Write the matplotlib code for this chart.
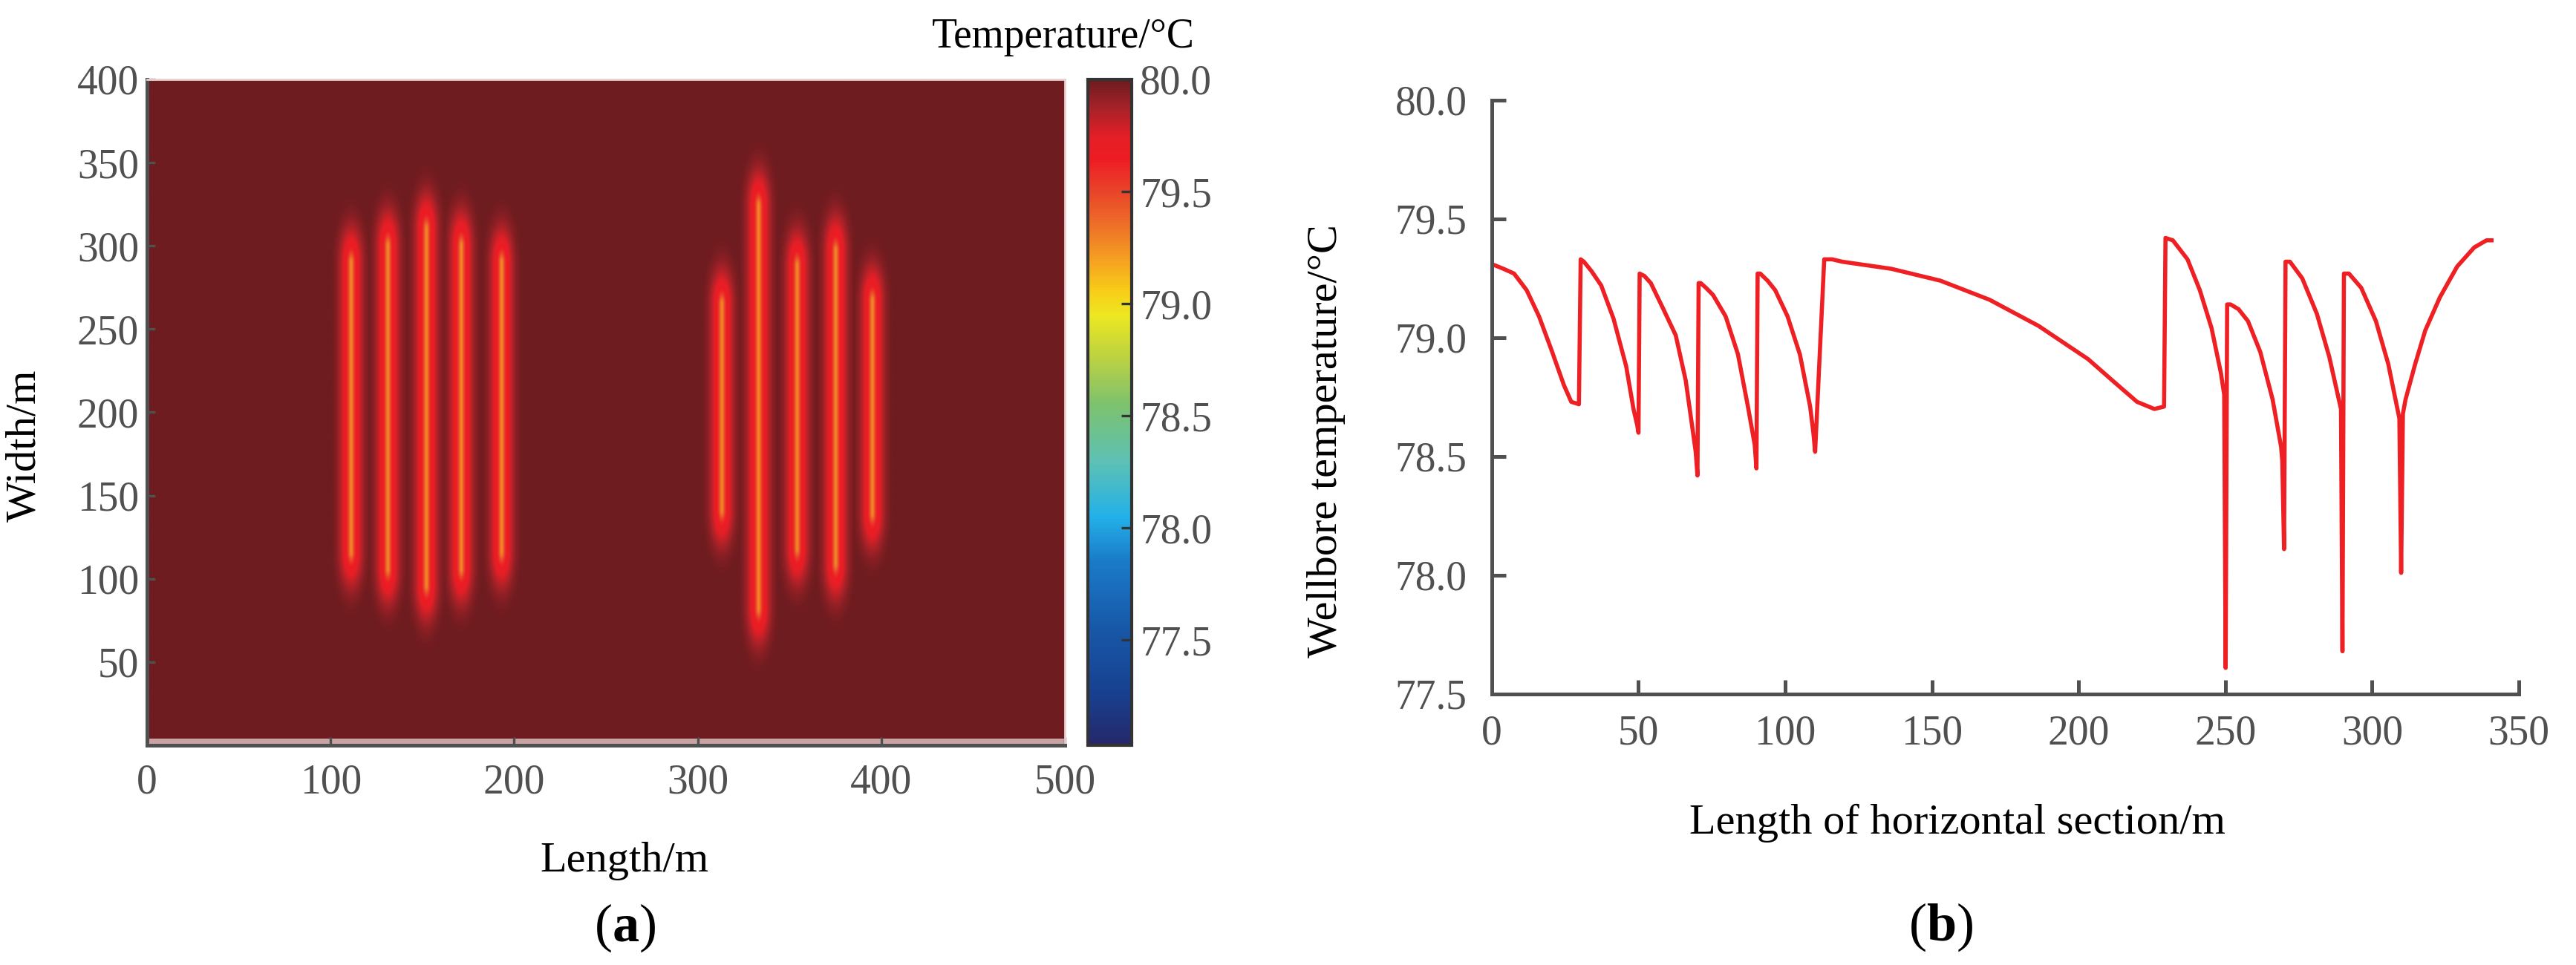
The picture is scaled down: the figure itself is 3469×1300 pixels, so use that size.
"""
Fracture temperature field (a) and wellbore temperature profile (b)
"""

import numpy as np
import matplotlib.pyplot as plt
from matplotlib.colors import LinearSegmentedColormap, Normalize

# ------------------------------
# fonts
# ------------------------------
plt.rcParams['font.family'] = ['Liberation Serif', 'DejaVu Serif']
plt.rcParams['mathtext.fontset'] = 'custom'
plt.rcParams['mathtext.rm'] = 'Liberation Serif'
plt.rcParams['mathtext.bf'] = 'Liberation Serif:bold'

# ------------------------------
# (a) fracture data
# ------------------------------
frac_x = [111, 131, 152, 171, 193, 313, 333, 354, 375, 395]
frac_half_len = [87, 97, 107, 97, 87, 62, 121, 85, 94, 64]
frac_center_y = 203
frac_core_drop = 0.72          # temperature drop on the fracture line, °C
t_reservoir = 80.0

# colour bar (value, colour)
cbar_vals = [77.03, 77.25, 77.55, 77.85, 78.05, 78.30, 78.55, 78.75,
             78.95, 79.05, 79.20, 79.35, 79.50, 79.65, 79.75, 79.88, 80.00]
cbar_cols = ['#26286a', '#183f8f', '#1858a8', '#1a7bc9', '#23b1e8', '#5ec1b3',
             '#7dc26e', '#b9d143', '#eee722', '#f7cf18', '#f5a021', '#ee7028',
             '#e9452a', '#ee1c24', '#e41f26', '#a52228', '#6e1c20']
cbar_ticks = [77.5, 78.0, 78.5, 79.0, 79.5, 80.0]

# ------------------------------
# (b) wellbore temperature data
# ------------------------------
bore_len = [0, 4, 7.6, 11.9, 16.1, 20.3, 24.6, 27.1, 29.7, 30.3,
            31.4, 34, 37.3, 41.5, 45.8, 48.3, 49.6, 50.0, 50.4,
            52, 54.2, 58.5, 62.7, 66.1, 68.6, 69.5, 70.1, 70.5,
            71.2, 73, 75.4, 79.7, 83.9, 87.3, 89.6, 90.2, 90.6,
            91.5, 94, 96.6, 100.8, 105, 108.5, 109.6, 110.2, 113.3,
            116, 119.4, 136.2, 152.9, 169.6, 186.3, 203.2, 211.5, 219.9,
            225.8, 229.1, 229.6,
            232.1, 237.1, 241.3, 245.3, 248.5, 249.6, 250.1, 250.6,
            251.8, 254.5, 257.7, 261.9, 266.1, 269.0, 269.4, 270.0, 270.5,
            272, 276.2, 281.2, 285.4, 288.3, 289.4, 289.9, 290.4,
            292.1, 296.3, 301.3, 305.5, 308.8, 309.3, 309.9, 310.5,
            311.4, 314.7, 318.1, 323.1, 329, 334.8, 339, 340.7]
bore_temp = [79.31, 79.29, 79.27, 79.20, 79.09, 78.95, 78.80, 78.73, 78.72, 79.33,
             79.32, 79.28, 79.22, 79.08, 78.88, 78.70, 78.63, 78.60, 79.27,
             79.26, 79.23, 79.12, 79.01, 78.82, 78.60, 78.52, 78.42, 79.23,
             79.23, 79.21, 79.18, 79.09, 78.93, 78.71, 78.55, 78.45, 79.27,
             79.27, 79.24, 79.20, 79.09, 78.93, 78.71, 78.60, 78.52, 79.33,
             79.33, 79.32, 79.29, 79.24, 79.16, 79.05, 78.91, 78.82, 78.73,
             78.70, 78.71, 79.42,
             79.41, 79.33, 79.20, 79.04, 78.85, 78.76, 77.61, 79.14,
             79.14, 79.12, 79.07, 78.94, 78.74, 78.54, 78.48, 78.11, 79.32,
             79.32, 79.25, 79.10, 78.92, 78.76, 78.70, 77.68, 79.27,
             79.27, 79.21, 79.07, 78.89, 78.69, 78.66, 78.01, 78.68,
             78.74, 78.89, 79.03, 79.17, 79.30, 79.38, 79.41, 79.41]

tick_col = '#505050'
spine_col = '#505050'

fig = plt.figure(figsize=(17.345, 6.5), dpi=200)

# ------------------------------
# (a) temperature field
# ------------------------------
ax1 = fig.add_axes([0.0571, 0.2277, 0.3563, 0.690])

xs = np.linspace(0, 500, 1001)
ys = np.linspace(4, 400, 793)
X, Y = np.meshgrid(xs, ys)
T = np.full(X.shape, t_reservoir)
for fx, half in zip(frac_x, frac_half_len):
    dx = X - fx
    dy = np.clip(np.abs(Y - frac_center_y) - half, 0, None) / 3.5
    d2 = dx ** 2 + dy ** 2
    drop = frac_core_drop * (0.42 * np.exp(-d2 / 1.5 ** 2) + 0.58 * np.exp(-d2 / 5.8 ** 2))
    T = np.minimum(T, t_reservoir - drop)

cmap = LinearSegmentedColormap.from_list(
    'temp', [((v - cbar_vals[0]) / (cbar_vals[-1] - cbar_vals[0]), c)
             for v, c in zip(cbar_vals, cbar_cols)])
norm = Normalize(vmin=cbar_vals[0], vmax=cbar_vals[-1])

im = ax1.imshow(T, origin='lower', extent=[0, 500, 4, 400], aspect='auto',
                cmap=cmap, norm=norm, interpolation='bilinear')
ax1.set_facecolor('#c8a4a4')
ax1.set_xlim(0, 500)
ax1.set_ylim(0, 400)
ax1.set_xticks([0, 100, 200, 300, 400, 500])
ax1.set_yticks([50, 100, 150, 200, 250, 300, 350, 400])
ax1.tick_params(direction='in', length=4, width=1.2, colors=spine_col,
                labelcolor=tick_col, labelsize=20)
ax1.tick_params(axis='x', pad=9)
ax1.tick_params(axis='y', pad=4)
for s in ['left', 'bottom']:
    ax1.spines[s].set_color(spine_col)
    ax1.spines[s].set_linewidth(1.8)
for s in ['top', 'right']:
    ax1.spines[s].set_color('#e6d0d0')
    ax1.spines[s].set_linewidth(1.0)

ax1.set_xlabel('Length/m', fontsize=21)
ax1.xaxis.set_label_coords(0.52, -0.145)
ax1.set_ylabel('Width/m', fontsize=21)
ax1.yaxis.set_label_coords(-0.112, 0.45)

# colour bar
cax = fig.add_axes([0.4223, 0.2277, 0.0170, 0.690])
cb = fig.colorbar(im, cax=cax, ticks=cbar_ticks, format='%.1f')
cb.outline.set_edgecolor('#333333')
cb.outline.set_linewidth(1.5)
cax.tick_params(direction='in', length=5, width=1.2, colors='#333333',
                labelcolor=tick_col, labelsize=20, pad=4)
fig.text(1432 / 3469, 1 - 50 / 1300, 'Temperature/°C', ha='center', va='center',
         fontsize=20)

fig.text(842 / 3469, 1 - 1250 / 1300, r'($\mathbf{a}$)', ha='center', va='center',
         fontsize=26)

# ------------------------------
# (b) wellbore temperature
# ------------------------------
ax2 = fig.add_axes([0.5791, 0.2808, 0.3987, 0.6154])
ax2.plot(bore_len, bore_temp, color='#ee2024', linewidth=2.0)
ax2.set_xlim(0, 350)
ax2.set_ylim(77.5, 80.0)
ax2.set_xticks([0, 50, 100, 150, 200, 250, 300, 350])
ax2.set_yticks([77.5, 78.0, 78.5, 79.0, 79.5, 80.0])
ax2.yaxis.set_major_formatter(plt.FormatStrFormatter('%.1f'))
ax2.tick_params(direction='in', length=7, width=1.8, colors=spine_col,
                labelcolor=tick_col, labelsize=20, pad=12)
ax2.tick_params(axis='x', pad=10)
for s in ['top', 'right']:
    ax2.spines[s].set_visible(False)
for s in ['left', 'bottom']:
    ax2.spines[s].set_color(spine_col)
    ax2.spines[s].set_linewidth(1.8)

ax2.set_xlabel('Length of horizontal section/m', fontsize=21)
ax2.xaxis.set_label_coords(0.453, -0.185)
ax2.set_ylabel('Wellbore temperature/°C', fontsize=21)
ax2.yaxis.set_label_coords(-0.142, 0.426)

fig.text(2614 / 3469, 1 - 1249 / 1300, r'($\mathbf{b}$)', ha='center', va='center',
         fontsize=26)

plt.savefig('out.png', dpi=200)
